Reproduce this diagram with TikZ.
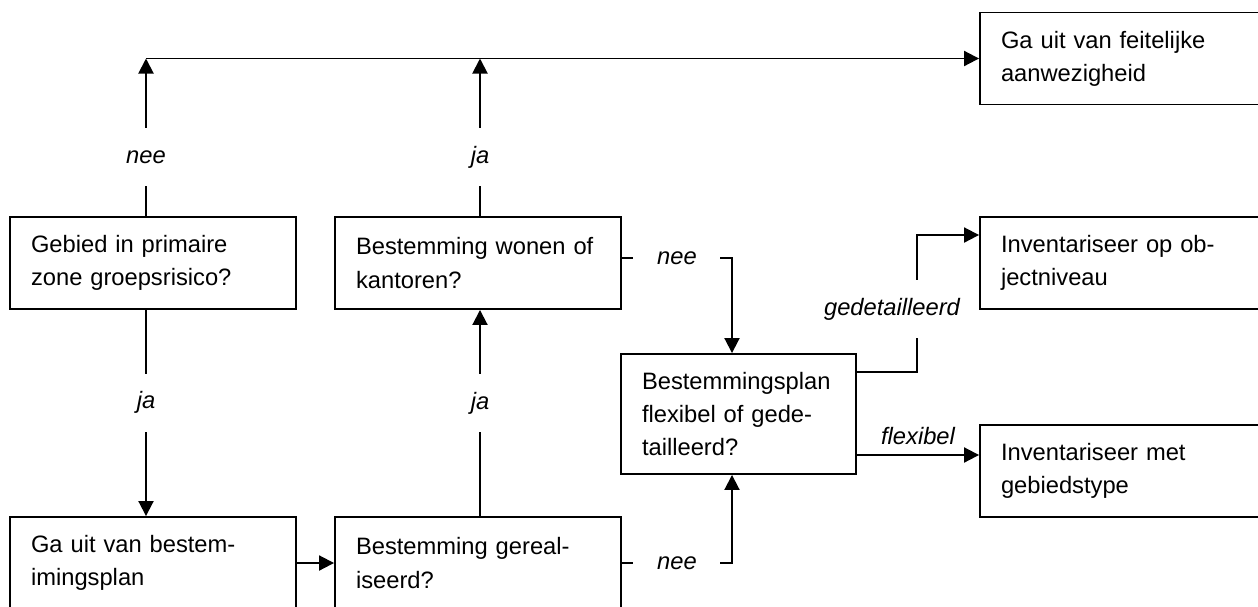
\documentclass[tikz,border=0pt]{standalone}
\usepackage{fontspec}
\setmainfont{Liberation Sans}
\usetikzlibrary{arrows.meta,positioning,calc}

\begin{document}
\begin{tikzpicture}[x=0.02cm, y=-0.02cm, line width=1.1pt,
  font=\fontsize{13.5}{18.8}\selectfont,
  box/.style={rectangle, draw=black, align=left, text width=4.88cm, inner xsep=0.42cm, minimum height=1.84cm},
  lbl/.style={font=\fontsize{13.5}{18.8}\selectfont\itshape},
  gap/.style={lbl, fill=white, minimum width=1.74cm, minimum height=1.16cm},
  arr/.style={-{Triangle[length=0.3cm, width=0.3cm]}}]
  \clip (0,0) rectangle (1258,606);

  \node (A) [box] at (153,263) {Gebied in primaire\\zone groepsrisico?};
  \node (B) [box] at (478,263) {Bestemming wonen of\\kantoren?};
  \node (C) [box] at (153,563) {Ga uit van bestem-\\imingsplan};
  \node (D) [box] at (478,563) {Bestemming gereal-\\iseerd?};
  \node (E) [box, text width=3.86cm, minimum height=2.4cm] at (738.5,414) {Bestemmingsplan\\flexibel of gede-\\tailleerd?};
  \node (F) [box] at (1123,58.5) {Ga uit van feitelijke\\aanwezigheid};
  \node (G) [box] at (1123,263) {Inventariseer op ob-\\jectniveau};
  \node (H) [box] at (1123,471) {Inventariseer met\\gebiedstype};

  \draw [arr] ([xshift=-0.14cm]A.north) -- node [gap, pos=0.372] {nee} ([xshift=-0.14cm]A.north |- F.west);
  \draw [arr] ([xshift=0.04cm]B.north) -- node [gap, pos=0.372] {ja} ([xshift=0.04cm]B.north |- F.west);
  \draw [arr] ([xshift=-0.14cm]A.north |- F.west) -- (F.west);

  \draw [arr] ([xshift=-0.14cm]A.south) -- node [gap, pos=0.45] {ja} ([xshift=-0.14cm]C.north);
  \draw [arr] (C.east) -- (D.west);
  \draw [arr] ([xshift=0.04cm]D.north) -- node [gap, pos=0.548] {ja} ([xshift=0.04cm]B.south);

  \draw [arr] ([yshift=0.1cm]B.east) -| node [gap, pos=0.25] {nee} ([xshift=-0.13cm]E.north);
  \draw [arr] (D.east) -| node [gap, pos=0.25] {nee} ([xshift=-0.13cm]E.south);

  \draw [arr] ([yshift=-0.38cm]E.north east) -| ([xshift=-1.24cm, yshift=0.56cm]G.west) -- ([yshift=0.56cm]G.west);
  \node (gd) [gap, minimum width=0pt] at (892,309) {gedetailleerd};
  \draw [arr] ([yshift=-0.82cm]E.east) -- node [lbl, above, yshift=2pt] {flexibel} ([yshift=-0.82cm]E.east -| H.west);

\end{tikzpicture}
\end{document}
